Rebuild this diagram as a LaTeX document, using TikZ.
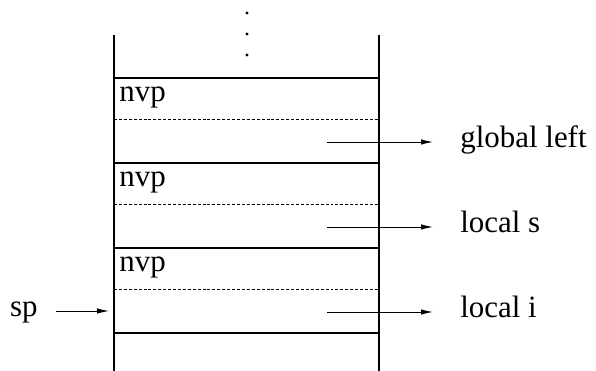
\documentclass[tikz,border=0pt]{standalone}
\usepackage{fontspec}
\setmainfont{Liberation Serif}
\usetikzlibrary{arrows.meta,positioning}

\begin{document}
\begin{tikzpicture}[>={Latex[length=2.4mm,width=1.1mm]},
    frame/.style={draw,line width=0.9pt,minimum width=5.3cm,minimum height=1.7cm,
      inner sep=0pt,outer sep=0pt},
    wall/.style={line width=0.6pt},
    slotline/.style={line width=0.5pt,dash pattern=on 1.7pt off 1.1pt},
    lbl/.style={font=\fontsize{17.6}{20}\selectfont,text height=8pt,text depth=2.3pt},
    ptr/.style={->,line width=0.55pt}]
  \useasboundingbox (0,0) rectangle (11.92,7.42);
  \node[frame,anchor=north west] (fr1) at (2.28,5.86) {};
  \node[frame,below=0pt of fr1] (fr2) {};
  \node[frame,below=0pt of fr2] (fr3) {};
  % stack walls, open at both ends
  \draw[wall] ([yshift=0.86cm]fr1.north west) -- ([yshift=-0.76cm]fr3.south west);
  \draw[wall] ([yshift=0.86cm]fr1.north east) -- ([yshift=-0.76cm]fr3.south east);
  \foreach \y in {7.16,6.74,6.32}
    \fill (4.94,\y) circle (0.032);
  \foreach \i/\var in {1/global left,2/local s,3/local i} {
    \draw[slotline] ([yshift=-0.82cm]fr\i.north west) -- ([yshift=-0.82cm]fr\i.north east);
    \node[lbl,anchor=base west,inner sep=0pt] (nvp\i) at ([xshift=0.1cm,yshift=-0.48cm]fr\i.north west) {nvp};
    \coordinate (slot\i) at ([xshift=-1.04cm,yshift=-1.28cm]fr\i.north east);
    \node[lbl,anchor=west,inner xsep=0.54cm,inner ysep=0pt] (var\i) at ([xshift=2.12cm]slot\i) {\var};
    \draw[ptr] (slot\i) -- (var\i);
  }
  \node[lbl,anchor=east,inner xsep=0.36cm,inner ysep=0pt] (sp) at ([yshift=0.02cm]slot3 -| 1.12,0) {sp};
  \draw[ptr] (sp) -- ([xshift=-1mm]sp -| fr3.west);
\end{tikzpicture}
\end{document}
